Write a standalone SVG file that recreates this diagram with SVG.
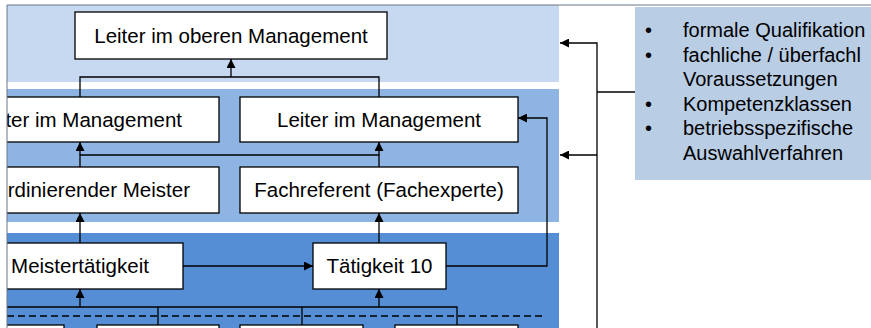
<svg xmlns="http://www.w3.org/2000/svg" width="871" height="328" viewBox="0 0 871 328">
<defs>
<clipPath id="clipL"><rect x="7" y="0" width="864" height="328"/></clipPath>
<marker id="ah" viewBox="0 0 10 10" refX="10" refY="5" markerWidth="9" markerHeight="9" markerUnits="userSpaceOnUse" orient="auto"><path d="M0,0 L10,5 L0,10 z" fill="#000"/></marker>
</defs>
<style>
.box{fill:#fff;stroke:#000;stroke-width:1.3}
.t{font-family:"Liberation Sans",Arial,sans-serif;font-size:20.5px;fill:#000}
.m{text-anchor:middle}
.e{text-anchor:end}
.l{font-family:"Liberation Sans",Arial,sans-serif;font-size:20px;fill:#000}
.c{fill:none;stroke:#000;stroke-width:1.3}
.a{fill:none;stroke:#000;stroke-width:1.3;marker-end:url(#ah)}
</style>
<rect width="871" height="328" fill="#fff"/>
<g id="bands">
<rect x="7" y="5" width="552" height="77" fill="#C6D9F1"/>
<rect x="7" y="89" width="552" height="133" fill="#8EB4E3"/>
<rect x="7" y="233" width="552" height="95" fill="#558ED5"/>
</g>
<g id="connectors" clip-path="url(#clipL)">
<path class="c" d="M80,97 V77 H379 V97"/>
<path class="a" d="M231,77 V59"/>
<path class="c" d="M80,167 V155 H379 V167"/>
<path class="a" d="M80,155 V142"/>
<path class="a" d="M379,155 V142"/>
<path class="a" d="M80,243 V213"/>
<path class="a" d="M379,243 V213"/>
<path class="a" d="M183,266 H313"/>
<path class="a" d="M446,266 H547 V118 H518"/>
<path class="c" d="M0,307 H457 V328 M158,307 V328 M302,307 V328"/>
<path class="a" d="M80,307 V289"/>
<path class="a" d="M379,307 V289"/>
<path class="c" d="M7,316 H543" stroke-dasharray="7,4"/>
<path class="a" d="M597,328 V43 H560"/>
<path class="a" d="M597,155 H560"/>
<path class="c" d="M597,92 H635"/>
</g>
<g id="n-top">
<rect class="box" x="75" y="12" width="312" height="47"/>
<text class="t m" x="231" y="43">Leiter im oberen Management</text>
</g>
<g id="n-leiter1" clip-path="url(#clipL)">
<rect class="box" x="-59" y="97" width="278" height="45"/>
<text class="t e" x="182" y="127">ter im Management</text>
</g>
<g id="n-leiter2">
<rect class="box" x="240" y="97" width="278" height="45"/>
<text class="t m" x="379" y="127">Leiter im Management</text>
</g>
<g id="n-meister" clip-path="url(#clipL)">
<rect class="box" x="-59" y="167" width="278" height="46"/>
<text class="t e" x="190" y="197">rdinierender Meister</text>
</g>
<g id="n-fachref">
<rect class="box" x="240" y="167" width="278" height="46"/>
<text class="t m" x="379" y="197">Fachreferent (Fachexperte)</text>
</g>
<g id="n-meistert" clip-path="url(#clipL)">
<rect class="box" x="-23" y="243" width="206" height="46"/>
<text class="t m" x="80" y="273">Meistertätigkeit</text>
</g>
<g id="n-taet10">
<rect class="box" x="313" y="243" width="133" height="46"/>
<text class="t m" x="379.5" y="273">Tätigkeit 10</text>
</g>
<g id="n-b1" clip-path="url(#clipL)"><rect class="box" x="-58" y="325" width="122" height="20"/></g>
<g id="n-b2"><rect class="box" x="97" y="325" width="122" height="20"/></g>
<g id="n-b3"><rect class="box" x="240" y="325" width="123" height="20"/></g>
<g id="n-b4"><rect class="box" x="395" y="325" width="123" height="20"/></g>
<g id="n-criteria">
<rect x="635" y="7" width="240" height="173" fill="#B9CDE5"/>
<text class="l" x="645" y="37">•</text>
<text class="l" x="683" y="37">formale Qualifikation</text>
<text class="l" x="645" y="61.5">•</text>
<text class="l" x="683" y="61.5">fachliche / überfachl</text>
<text class="l" x="683" y="86">Voraussetzungen</text>
<text class="l" x="645" y="110.5">•</text>
<text class="l" x="683" y="110.5">Kompetenzklassen</text>
<text class="l" x="645" y="135">•</text>
<text class="l" x="683" y="135">betriebsspezifische</text>
<text class="l" x="683" y="159.5">Auswahlverfahren</text>
</g>
<path id="frame" d="M7,328 V5 H871" fill="none" stroke="#6b7787" stroke-width="1"/>
</svg>
